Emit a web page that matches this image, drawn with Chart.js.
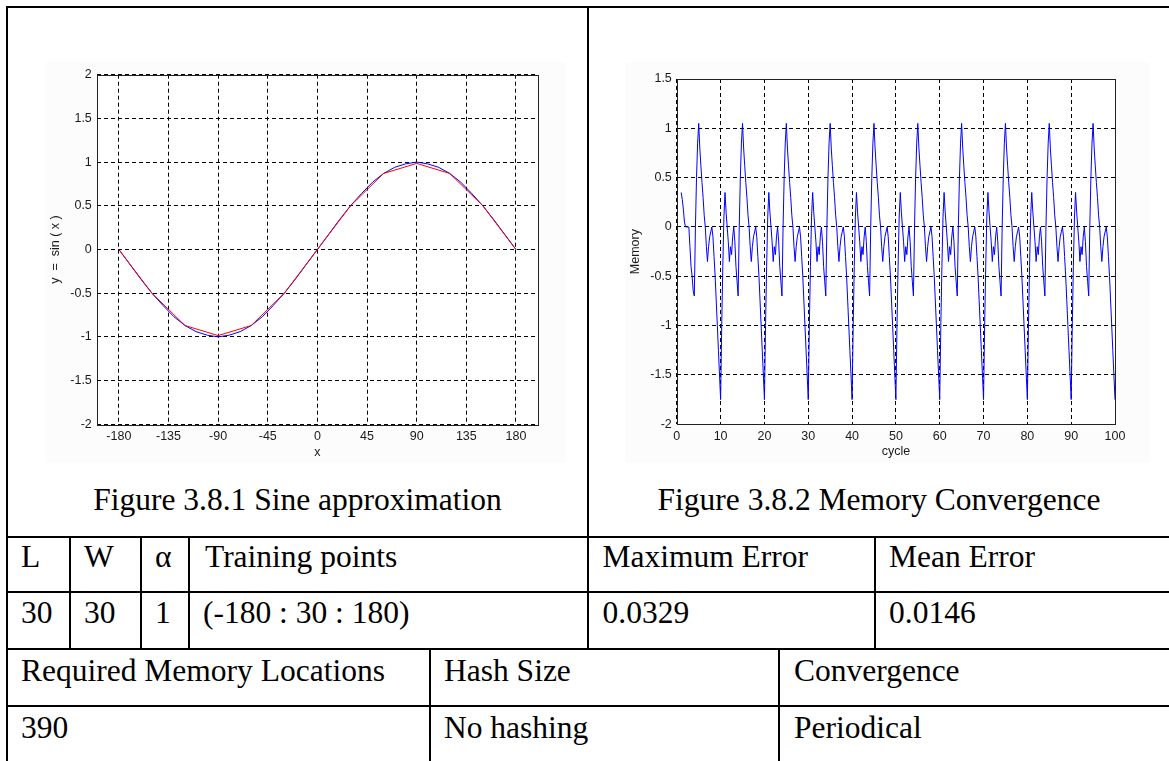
<!DOCTYPE html>
<html><head><meta charset="utf-8">
<script src="https://cdn.jsdelivr.net/npm/chart.js@4.4.1/dist/chart.umd.min.js"></script>
<style>
html,body{margin:0;padding:0;background:#fff;width:1169px;height:761px;overflow:hidden;}
#page{position:relative;width:1169px;height:761px;}
.h{position:absolute;height:2px;background:#000;}
.v{position:absolute;width:2px;background:#000;}
.t{position:absolute;font-family:"Liberation Serif","Times New Roman",serif;font-size:31.5px;line-height:1;white-space:nowrap;color:#000;}
.c{text-align:center;}
.bg{position:absolute;background:#fcfcfc;}
canvas{position:absolute;}
</style></head>
<body><div id="page">
<div class="bg" style="left:46px;top:62px;width:520px;height:401px"></div>
<div class="bg" style="left:625px;top:62px;width:525px;height:401px"></div>
<canvas id="c1" width="560" height="440" style="left:20px;top:40px"></canvas>
<canvas id="c2" width="560" height="440" style="left:600px;top:40px"></canvas>

<div class="h" style="left:6px;top:6px;width:1170px"></div>
<div class="v" style="left:6px;top:6px;height:760px"></div>
<div class="v" style="left:587px;top:6px;height:644px"></div>
<div class="h" style="left:6px;top:536px;width:1170px"></div>
<div class="h" style="left:6px;top:591px;width:1170px"></div>
<div class="h" style="left:6px;top:648px;width:1170px"></div>
<div class="h" style="left:6px;top:705px;width:1170px"></div>
<div class="v" style="left:69px;top:536px;height:114px"></div>
<div class="v" style="left:140px;top:536px;height:114px"></div>
<div class="v" style="left:188px;top:536px;height:114px"></div>
<div class="v" style="left:874px;top:536px;height:114px"></div>
<div class="v" style="left:429px;top:648px;height:113px"></div>
<div class="v" style="left:778px;top:648px;height:113px"></div>

<div class="t c" style="left:8px;width:579px;top:483.6px">Figure 3.8.1 Sine approximation</div>
<div class="t c" style="left:589px;width:580px;top:483.6px">Figure 3.8.2 Memory Convergence</div>

<div class="t" style="left:21px;top:540.6px">L</div>
<div class="t" style="left:84px;top:540.6px">W</div>
<div class="t" style="left:155px;top:540.6px">α</div>
<div class="t" style="left:205px;top:540.6px">Training points</div>
<div class="t" style="left:602.5px;top:540.6px">Maximum Error</div>
<div class="t" style="left:889px;top:540.6px">Mean Error</div>

<div class="t" style="left:21px;top:596.6px">30</div>
<div class="t" style="left:84px;top:596.6px">30</div>
<div class="t" style="left:155px;top:596.6px">1</div>
<div class="t" style="left:203px;top:596.6px">(-180 : 30 : 180)</div>
<div class="t" style="left:602.5px;top:596.6px">0.0329</div>
<div class="t" style="left:889px;top:596.6px">0.0146</div>

<div class="t" style="left:21px;top:654.6px">Required Memory Locations</div>
<div class="t" style="left:444px;top:654.6px">Hash Size</div>
<div class="t" style="left:794px;top:654.6px">Convergence</div>

<div class="t" style="left:21px;top:711.6px">390</div>
<div class="t" style="left:444px;top:711.6px">No hashing</div>
<div class="t" style="left:794px;top:711.6px">Periodical</div>
</div>
<script>
// ---- Figure 3.8.1 data ----
const sineX = [-180,-170,-160,-150,-140,-130,-120,-110,-100,-90,-80,-70,-60,-50,-40,-30,-20,-10,0,10,20,30,40,50,60,70,80,90,100,110,120,130,140,150,160,170,180];
const sineTrue = [0,-0.17,-0.34,-0.5,-0.64,-0.77,-0.87,-0.94,-0.98,-1.0,-0.98,-0.94,-0.87,-0.77,-0.64,-0.5,-0.34,-0.17,0,0.17,0.34,0.5,0.64,0.77,0.87,0.94,0.98,1.0,0.98,0.94,0.87,0.77,0.64,0.5,0.34,0.17,0];
const trainX = [-180,-150,-120,-90,-60,-30,0,30,60,90,120,150,180];
const sineApprox = [0,-0.5,-0.87,-0.985,-0.87,-0.5,0,0.5,0.87,0.985,0.87,0.5,0];
const sineXTicks = [-180,-135,-90,-45,0,45,90,135,180];
const sineYTicks = [-2,-1.5,-1,-0.5,0,0.5,1,1.5,2];

// ---- Figure 3.8.2 data ----
const cycleTicks = [0,10,20,30,40,50,60,70,80,90,100];
const memoryYTicks = [-2,-1.5,-1,-0.5,0,0.5,1,1.5];
const cycleStart = 1;
const cycleStep = 0.25;
const memory = [
 0.35,0.28,0.18,0.05,0.00,0.00,0.00,0.00,-0.20,-0.40,-0.50,-0.65,-0.70,0.00,0.50,0.85,1.05,0.80,0.62,0.45,0.30,0.12,0.00,-0.20,-0.35,-0.20,-0.10,-0.05,0.00,-0.10,-0.30,-0.50,-0.75,-1.00,-1.25,-1.50,
 -1.75,-1.00,-0.40,0.10,0.35,0.15,0.00,-0.15,-0.35,-0.20,-0.28,-0.10,0.00,-0.15,-0.40,-0.55,-0.70,0.00,0.50,0.85,1.05,0.80,0.62,0.45,0.30,0.12,0.00,-0.20,-0.35,-0.20,-0.10,-0.05,0.00,-0.10,-0.30,-0.50,-0.75,-1.00,-1.25,-1.50,
 -1.75,-1.00,-0.40,0.10,0.35,0.15,0.00,-0.15,-0.35,-0.20,-0.28,-0.10,0.00,-0.15,-0.40,-0.55,-0.70,0.00,0.50,0.85,1.05,0.80,0.62,0.45,0.30,0.12,0.00,-0.20,-0.35,-0.20,-0.10,-0.05,0.00,-0.10,-0.30,-0.50,-0.75,-1.00,-1.25,-1.50,
 -1.75,-1.00,-0.40,0.10,0.35,0.15,0.00,-0.15,-0.35,-0.20,-0.28,-0.10,0.00,-0.15,-0.40,-0.55,-0.70,0.00,0.50,0.85,1.05,0.80,0.62,0.45,0.30,0.12,0.00,-0.20,-0.35,-0.20,-0.10,-0.05,0.00,-0.10,-0.30,-0.50,-0.75,-1.00,-1.25,-1.50,
 -1.75,-1.00,-0.40,0.10,0.35,0.15,0.00,-0.15,-0.35,-0.20,-0.28,-0.10,0.00,-0.15,-0.40,-0.55,-0.70,0.00,0.50,0.85,1.05,0.80,0.62,0.45,0.30,0.12,0.00,-0.20,-0.35,-0.20,-0.10,-0.05,0.00,-0.10,-0.30,-0.50,-0.75,-1.00,-1.25,-1.50,
 -1.75,-1.00,-0.40,0.10,0.35,0.15,0.00,-0.15,-0.35,-0.20,-0.28,-0.10,0.00,-0.15,-0.40,-0.55,-0.70,0.00,0.50,0.85,1.05,0.80,0.62,0.45,0.30,0.12,0.00,-0.20,-0.35,-0.20,-0.10,-0.05,0.00,-0.10,-0.30,-0.50,-0.75,-1.00,-1.25,-1.50,
 -1.75,-1.00,-0.40,0.10,0.35,0.15,0.00,-0.15,-0.35,-0.20,-0.28,-0.10,0.00,-0.15,-0.40,-0.55,-0.70,0.00,0.50,0.85,1.05,0.80,0.62,0.45,0.30,0.12,0.00,-0.20,-0.35,-0.20,-0.10,-0.05,0.00,-0.10,-0.30,-0.50,-0.75,-1.00,-1.25,-1.50,
 -1.75,-1.00,-0.40,0.10,0.35,0.15,0.00,-0.15,-0.35,-0.20,-0.28,-0.10,0.00,-0.15,-0.40,-0.55,-0.70,0.00,0.50,0.85,1.05,0.80,0.62,0.45,0.30,0.12,0.00,-0.20,-0.35,-0.20,-0.10,-0.05,0.00,-0.10,-0.30,-0.50,-0.75,-1.00,-1.25,-1.50,
 -1.75,-1.00,-0.40,0.10,0.35,0.15,0.00,-0.15,-0.35,-0.20,-0.28,-0.10,0.00,-0.15,-0.40,-0.55,-0.70,0.00,0.50,0.85,1.05,0.80,0.62,0.45,0.30,0.12,0.00,-0.20,-0.35,-0.20,-0.10,-0.05,0.00,-0.10,-0.30,-0.50,-0.75,-1.00,-1.25,-1.50,
 -1.75,-1.00,-0.40,0.10,0.35,0.15,0.00,-0.15,-0.35,-0.20,-0.28,-0.10,0.00,-0.15,-0.40,-0.55,-0.70,0.00,0.50,0.85,1.05,0.80,0.62,0.45,0.30,0.12,0.00,-0.20,-0.35,-0.20,-0.10,-0.05,0.00,-0.10,-0.30,-0.50,-0.75,-1.00,-1.25,-1.50,
 -1.75
];

const tickFont = {family:'"Liberation Sans", Arial, sans-serif', size:12.5};
const tickColor = '#1a1a1a';

const framePlugin = {
  id:'frame',
  beforeDraw(chart){
    const a = chart.chartArea, ctx = chart.ctx;
    ctx.save(); ctx.fillStyle = '#fff';
    ctx.fillRect(a.left, a.top, a.right - a.left, a.bottom - a.top);
    ctx.restore();
  },
  afterDatasetsDraw(chart){
    const a = chart.chartArea, ctx = chart.ctx;
    ctx.save(); ctx.strokeStyle = '#222'; ctx.lineWidth = 1;
    ctx.strokeRect(Math.round(a.left)+0.5, Math.round(a.top)+0.5, Math.round(a.right - a.left), Math.round(a.bottom - a.top));
    ctx.restore();
  }
};

function axisOpts(min, max, ticks, title, titlePad, isX){
  const o = {
    type:'linear', min:min, max:max,
    afterBuildTicks: ax => { ax.ticks = ticks.map(v => ({value:v})); },
    grid:{color:'#000', lineWidth:1, drawTicks:false},
    border:{display:false, dash:[4,3]},
    ticks:{padding:isX ? 5 : 5, color:tickColor, font:tickFont, maxRotation:0, autoSkip:false, callback: v => String(v)},
    title:{display:true, text:title, color:tickColor, font:tickFont,
           padding: isX ? {top:0, bottom:titlePad} : {top:titlePad, bottom:0}}
  };
  if (isX) { o.position = 'bottom'; o.afterFit = ax => { ax.height = 55.7; }; }
  else { o.position = 'left'; o.afterFit = ax => { ax.width = 76.8; }; }
  return o;
}

function baseOptions(padTop, padRight, xScale, yScale){
  return {
    responsive:false, animation:false, events:[],
    layout:{padding:{top:padTop, right:padRight, left:0, bottom:0}},
    plugins:{legend:{display:false}, tooltip:{enabled:false}},
    scales:{x:xScale, y:yScale}
  };
}

new Chart(document.getElementById('c1'), {
  type:'line',
  data:{datasets:[
    {label:'approximation', data: trainX.map((x,i)=>({x:x, y:sineApprox[i]})), borderColor:'#ff0000', borderWidth:1, pointRadius:0, tension:0, fill:false, borderJoinStyle:'round'},
    {label:'sin(x)', data: sineX.map((x,i)=>({x:x, y:sineTrue[i]})), borderColor:'#0000ff', borderWidth:1, pointRadius:0, tension:0, fill:false, borderJoinStyle:'round'}
  ]},
  options: baseOptions(34.7, 42,
    axisOpts(-200, 200, sineXTicks, 'x', 19.5, true),
    axisOpts(-2, 2, sineYTicks, 'y  =  sin ( x )', 28.5, false)),
  plugins:[framePlugin]
});

new Chart(document.getElementById('c2'), {
  type:'line',
  data:{datasets:[
    {label:'Memory', data: memory.map((v,i)=>({x: cycleStart + i*cycleStep, y:v})), borderColor:'#0000ff', borderWidth:1, pointRadius:0, tension:0, fill:false, borderJoinStyle:'round'}
  ]},
  options: baseOptions(39, 45,
    axisOpts(0, 100, cycleTicks, 'cycle', 20.5, true),
    axisOpts(-2, 1.5, memoryYTicks, 'Memory', 28.5, false)),
  plugins:[framePlugin]
});
</script>
</body></html>
